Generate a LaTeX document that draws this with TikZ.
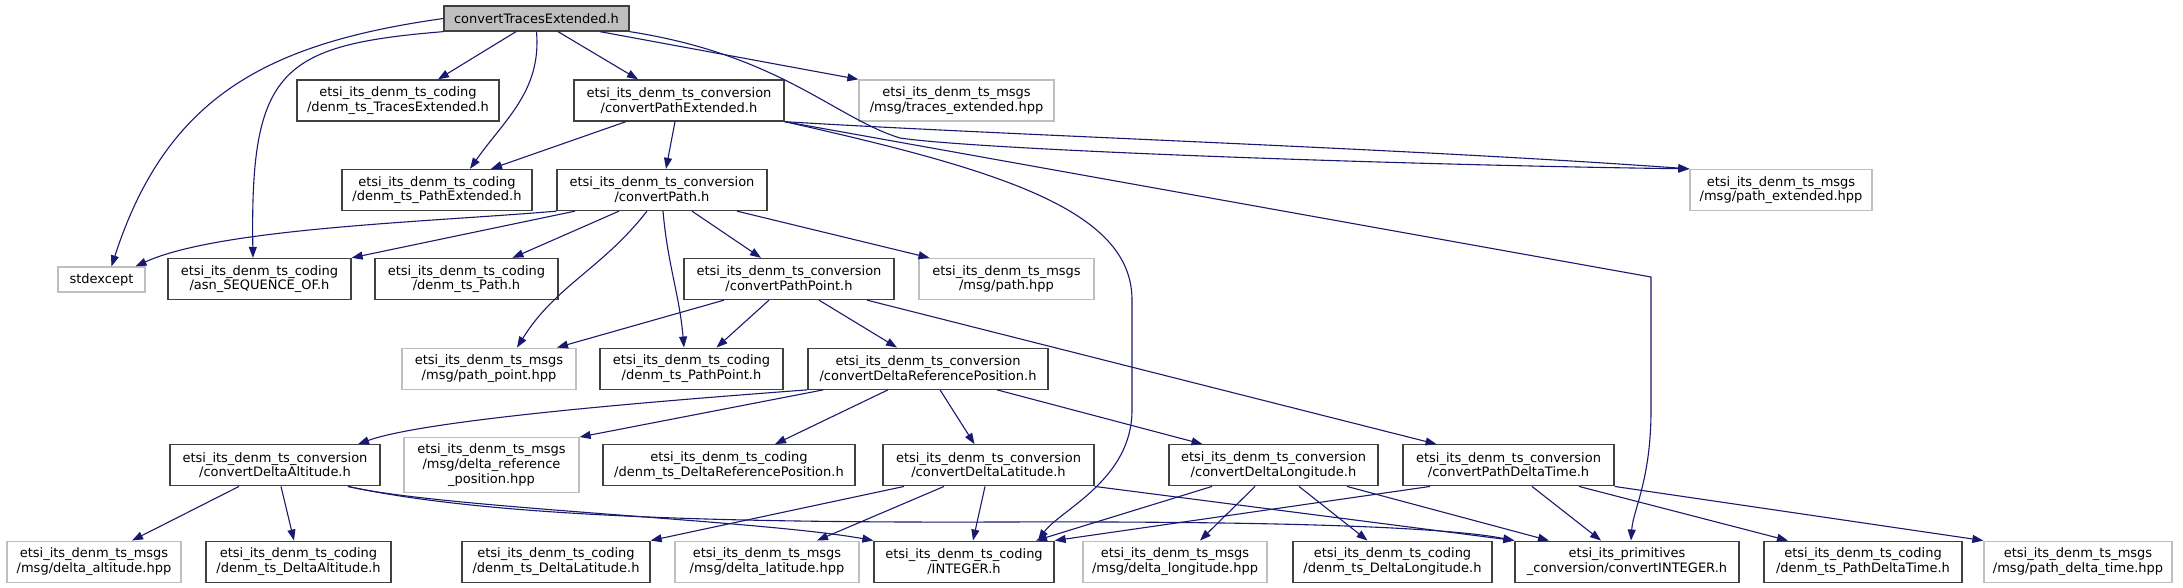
\documentclass[tikz,border=0pt]{standalone}
\usepackage{fontspec}
\setmainfont{DejaVu Sans}
\usepackage{tikz}
\usetikzlibrary{arrows.meta}
\definecolor{edgeblue}{HTML}{191970}
\definecolor{boxline}{HTML}{404040}
\definecolor{extline}{HTML}{BFBFBF}
\definecolor{rootfill}{HTML}{BFBFBF}

\begin{document}
\begin{tikzpicture}[x=1pt, y=1pt,
    hdr/.style={draw=boxline, line width=1.3pt, align=center, inner sep=2pt,
      minimum height=41pt, font=\fontsize{13}{14.7}\selectfont},
    ext/.style={hdr, draw=extline},
    rootfile/.style={hdr, fill=rootfill, minimum height=25pt},
    inc/.style={draw=edgeblue, line width=1.1pt, -{Triangle[length=11pt, width=8pt]}}]
    \useasboundingbox (0,0) rectangle (2183,-588);
    % row 0
    \node[rootfile, minimum width=185pt] (root) at (536.5,-18.5){convertTracesExtended.h};
    % row 1
    \node[hdr, minimum width=202pt] (tracesExt) at (398,-100.5){etsi\_its\_denm\_ts\_coding\\/denm\_ts\_TracesExtended.h};
    \node[hdr, minimum width=210pt] (convPathExt) at (679,-100.5){etsi\_its\_denm\_ts\_conversion\\/convertPathExtended.h};
    \node[ext, minimum width=195pt] (tracesMsg) at (956.5,-100.5){etsi\_its\_denm\_ts\_msgs\\/msg/traces\_extended.hpp};
    % row 2
    \node[hdr, minimum width=190pt] (pathExt) at (437,-190){etsi\_its\_denm\_ts\_coding\\/denm\_ts\_PathExtended.h};
    \node[hdr, minimum width=210pt] (convPath) at (662,-190){etsi\_its\_denm\_ts\_conversion\\/convertPath.h};
    \node[ext, minimum width=182pt] (pathExtMsg) at (1781,-190){etsi\_its\_denm\_ts\_msgs\\/msg/path\_extended.hpp};
    % row 3
    \node[ext, minimum width=87pt, minimum height=25pt] (stdexcept) at (101.5,-279.5){stdexcept};
    \node[hdr, minimum width=183pt] (asnSeq) at (259.5,-279){etsi\_its\_denm\_ts\_coding\\/asn\_SEQUENCE\_OF.h};
    \node[hdr, minimum width=183pt] (pathH) at (466.5,-279){etsi\_its\_denm\_ts\_coding\\/denm\_ts\_Path.h};
    \node[hdr, minimum width=210pt] (convPathPoint) at (789,-279){etsi\_its\_denm\_ts\_conversion\\/convertPathPoint.h};
    \node[ext, minimum width=175pt] (pathMsg) at (1006.5,-279){etsi\_its\_denm\_ts\_msgs\\/msg/path.hpp};
    % row 4
    \node[ext, minimum width=174pt] (pathPointMsg) at (489,-368.7){etsi\_its\_denm\_ts\_msgs\\/msg/path\_point.hpp};
    \node[hdr, minimum width=183pt] (pathPointH) at (691.5,-368.7){etsi\_its\_denm\_ts\_coding\\/denm\_ts\_PathPoint.h};
    \node[hdr, minimum width=240pt] (convDRP) at (928,-368.7){etsi\_its\_denm\_ts\_conversion\\/convertDeltaReferencePosition.h};
    % row 5
    \node[hdr, minimum width=210pt] (convDAlt) at (275,-465.3){etsi\_its\_denm\_ts\_conversion\\/convertDeltaAltitude.h};
    \node[ext, minimum width=175pt, minimum height=54.6pt] (drpMsg) at (491.5,-465){etsi\_its\_denm\_ts\_msgs\\/msg/delta\_reference\\\_position.hpp};
    \node[hdr, minimum width=252pt] (drpH) at (729,-465.3){etsi\_its\_denm\_ts\_coding\\/denm\_ts\_DeltaReferencePosition.h};
    \node[hdr, minimum width=211pt] (convDLat) at (988.5,-465.3){etsi\_its\_denm\_ts\_conversion\\/convertDeltaLatitude.h};
    \node[hdr, minimum width=209pt] (convDLon) at (1273.5,-465.3){etsi\_its\_denm\_ts\_conversion\\/convertDeltaLongitude.h};
    \node[hdr, minimum width=211pt] (convPDT) at (1508.5,-465.3){etsi\_its\_denm\_ts\_conversion\\/convertPathDeltaTime.h};
    % row 6
    \node[ext, minimum width=174pt] (dAltMsg) at (94,-561.7){etsi\_its\_denm\_ts\_msgs\\/msg/delta\_altitude.hpp};
    \node[hdr, minimum width=185pt] (dAltH) at (298.5,-561.7){etsi\_its\_denm\_ts\_coding\\/denm\_ts\_DeltaAltitude.h};
    \node[hdr, minimum width=188pt] (dLatH) at (556,-561.7){etsi\_its\_denm\_ts\_coding\\/denm\_ts\_DeltaLatitude.h};
    \node[ext, minimum width=184pt] (dLatMsg) at (767,-561.7){etsi\_its\_denm\_ts\_msgs\\/msg/delta\_latitude.hpp};
    \node[hdr, minimum width=180pt] (integerH) at (964,-561.7){etsi\_its\_denm\_ts\_coding\\/INTEGER.h};
    \node[ext, minimum width=184pt] (dLonMsg) at (1175,-561.7){etsi\_its\_denm\_ts\_msgs\\/msg/delta\_longitude.hpp};
    \node[hdr, minimum width=199pt] (dLonH) at (1392.5,-561.7){etsi\_its\_denm\_ts\_coding\\/denm\_ts\_DeltaLongitude.h};
    \node[hdr, minimum width=224pt] (convInt) at (1627,-561.7){etsi\_its\_primitives\\\_conversion/convertINTEGER.h};
    \node[hdr, minimum width=198pt] (pdtH) at (1863,-561.7){etsi\_its\_denm\_ts\_coding\\/denm\_ts\_PathDeltaTime.h};
    \node[ext, minimum width=188pt] (pdtMsg) at (2078,-561.7){etsi\_its\_denm\_ts\_msgs\\/msg/path\_delta\_time.hpp};

    % convertTracesExtended.h
    \draw[inc] (root.west) to[out=188, in=72, looseness=1.1] ([xshift=10pt]stdexcept.north);
    \draw[inc] (root.south west) .. controls (280,-45) and (250,-70) .. ([xshift=-6.5pt]asnSeq.north);
    \draw[inc] ([xshift=-20.5pt]root.south)--([xshift=40pt]tracesExt.north);
    \draw[inc] (root.south) to[out=-85, in=55] ([xshift=33pt]pathExt.north);
    \draw[inc] ([xshift=21.5pt]root.south)--([xshift=-41pt]convPathExt.north);
    \draw[inc] ([xshift=63.5pt]root.south)--(tracesMsg.north west);
    \draw[inc] (root.south east) .. controls (780,-55) and (835,-118) .. (900,-138) .. controls (980,-150) and (1400,-165) .. (pathExtMsg.north west);
    % convertPathExtended.h
    \draw[inc] ([xshift=-53pt]convPathExt.south)--([xshift=54pt]pathExt.north);
    \draw[inc] ([xshift=-4pt]convPathExt.south)--([xshift=4pt]convPath.north);
    \draw[inc] (convPathExt.south east) .. controls (1000,-135) and (1400,-148) .. (pathExtMsg.north west);
    \draw[inc] (convPathExt.south east) .. controls (1000,-170) and (1132,-210) .. (1132,-300)--(1132,-410) .. controls (1132,-480) and (1060,-510) .. ([xshift=74pt]integerH.north);
    \draw[inc] (convPathExt.south east)--(1651,-277)--(1651,-410) .. controls (1651,-480) and (1633,-510) .. ([xshift=4pt]convInt.north);
    % convertPath.h
    \draw[inc] (convPath.south west) .. controls (430,-222) and (220,-228) .. ([xshift=34pt]stdexcept.north);
    \draw[inc] ([xshift=-87pt]convPath.south)--(asnSeq.north east);
    \draw[inc] ([xshift=-43pt]convPath.south)--([xshift=46pt]pathH.north);
    \draw[inc] ([xshift=-15pt]convPath.south) to[out=-128, in=58] ([xshift=28pt]pathPointMsg.north);
    \draw[inc] ([xshift=1pt]convPath.south) to[out=-85, in=95] ([xshift=-7.5pt]pathPointH.north);
    \draw[inc] ([xshift=30pt]convPath.south)--([xshift=-28pt]convPathPoint.north);
    \draw[inc] ([xshift=75pt]convPath.south)--([xshift=-77pt]pathMsg.north);
    % convertPathPoint.h
    \draw[inc] ([xshift=-65pt]convPathPoint.south)--([xshift=68pt]pathPointMsg.north);
    \draw[inc] ([xshift=-20pt]convPathPoint.south)--([xshift=25pt]pathPointH.north);
    \draw[inc] ([xshift=30pt]convPathPoint.south)--([xshift=-31pt]convDRP.north);
    \draw[inc] ([xshift=78pt]convPathPoint.south)--([xshift=-72pt]convPDT.north);
    % convertDeltaReferencePosition.h
    \draw[inc] (convDRP.south west) .. controls (700,-398) and (430,-418) .. ([xshift=83pt]convDAlt.north);
    \draw[inc] ([xshift=16pt]convDRP.south west)--(drpMsg.north east);
    \draw[inc] ([xshift=-40pt]convDRP.south)--([xshift=46pt]drpH.north);
    \draw[inc] ([xshift=12pt]convDRP.south)--([xshift=-14pt]convDLat.north);
    \draw[inc] ([xshift=69pt]convDRP.south)--([xshift=-71pt]convDLon.north);
    % convertDeltaAltitude.h
    \draw[inc] ([xshift=-36pt]convDAlt.south)--([xshift=38pt]dAltMsg.north);
    \draw[inc] ([xshift=6pt]convDAlt.south)--([xshift=-4.5pt]dAltH.north);
    \draw[inc] ([xshift=73pt]convDAlt.south) .. controls (440,-508) and (760,-520) .. (integerH.north west);
    \draw[inc] ([xshift=73pt]convDAlt.south) .. controls (480,-515) and (700,-523) .. (1000,-522) .. controls (1300,-521) and (1450,-528) .. (convInt.north west);
    % convertDeltaLatitude.h
    \draw[inc] ([xshift=-84.5pt]convDLat.south)--(dLatH.north east);
    \draw[inc] ([xshift=-44.5pt]convDLat.south)--([xshift=50pt]dLatMsg.north);
    \draw[inc] ([xshift=-3.5pt]convDLat.south)--([xshift=9pt]integerH.north);
    \draw[inc] (convDLat.south east)--(convInt.north west);
    % convertDeltaLongitude.h
    \draw[inc] ([xshift=-61.5pt]convDLon.south)--([xshift=72pt]integerH.north);
    \draw[inc] ([xshift=-18.5pt]convDLon.south)--([xshift=25pt]dLonMsg.north);
    \draw[inc] ([xshift=25.5pt]convDLon.south)--([xshift=-25pt]dLonH.north);
    \draw[inc] ([xshift=73.5pt]convDLon.south)--([xshift=-78pt]convInt.north);
    % convertPathDeltaTime.h
    \draw[inc] ([xshift=-78.5pt]convPDT.south)--(integerH.north east);
    \draw[inc] ([xshift=23.5pt]convPDT.south)--([xshift=-26pt]convInt.north);
    \draw[inc] ([xshift=70.5pt]convPDT.south)--([xshift=-75pt]pdtH.north);
    \draw[inc] (convPDT.south east)--(pdtMsg.north west);
  \end{tikzpicture}
\end{document}
